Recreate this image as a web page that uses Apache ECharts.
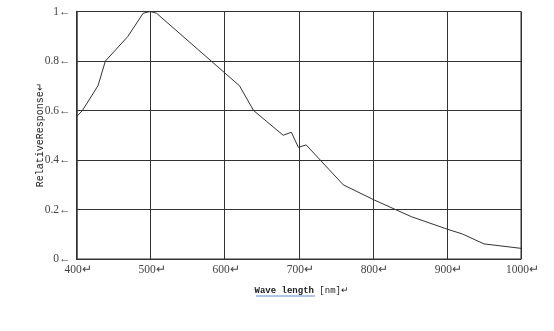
<!DOCTYPE html>
<html><head><meta charset="utf-8">
<script src="https://cdn.jsdelivr.net/npm/echarts@6/dist/echarts.min.js"></script>
<style>html,body{margin:0;padding:0;background:#fff}#c{width:554px;height:331px}</style>
</head><body><div id="c"></div>
<script>
const wavelengths = [400, 408, 429, 439, 469, 490, 499.5, 508, 620, 639, 679, 690, 699.5, 710, 760, 800, 852, 900, 921, 950, 1000];
const response   = [0.575, 0.60, 0.70, 0.80, 0.898, 0.993, 1.0, 0.993, 0.70, 0.60, 0.50, 0.512, 0.451, 0.461, 0.30, 0.241, 0.171, 0.121, 0.101, 0.061, 0.043];
const xTicks = [400, 500, 600, 700, 800, 900, 1000];
const yTicks = [0, 0.2, 0.4, 0.6, 0.8, 1];
const xNameMain = 'Wave length';
const xNameRest = ' [nm]↵';
const yName = 'RelativeResponse↵';

const chart = echarts.init(document.getElementById('c'));
const data = wavelengths.map((w, i) => [w, response[i]]);
chart.setOption({
  animation: false,
  grid: {left: 76.5, right: 33, top: 11.5, bottom: 72, show: true, borderColor: '#333', borderWidth: 1},
  graphic: [{
    type: 'line', shape: {x1: 256, y1: 296, x2: 315, y2: 296},
    style: {stroke: '#5b8fd6', lineWidth: 1.2}, silent: true
  }],
  xAxis: {
    type: 'value', min: xTicks[0], max: xTicks[xTicks.length-1], interval: 100,
    axisLine: {show: true, lineStyle: {color: '#333', width: 1}},
    axisTick: {show: false},
    splitLine: {show: true, lineStyle: {color: '#333', width: 1}},
    axisLabel: {margin: 5, color: '#444', fontFamily: 'Liberation Serif', fontSize: 11.5,
      formatter: v => v + '↵', padding: [0, 0, 0, 3]},
    name: '{b|' + xNameMain + '}' + xNameRest, nameLocation: 'middle', nameGap: 27,
    nameMoveOverlap: false,
    nameTextStyle: {fontFamily: 'Liberation Mono', fontSize: 9, color: '#222', padding: [0, 0, 0, 6],
      rich: {b: {fontFamily: 'Liberation Mono', fontSize: 9, fontWeight: 'bold', color: '#222'}}}
  },
  yAxis: {
    type: 'value', min: yTicks[0], max: yTicks[yTicks.length-1], interval: 0.2,
    axisLine: {show: true, lineStyle: {color: '#333', width: 1.5}},
    axisTick: {show: false},
    splitLine: {show: true, lineStyle: {color: '#333', width: 1}},
    axisLabel: {margin: 6, color: '#444', fontFamily: 'Liberation Serif', fontSize: 11.5,
      formatter: v => (Math.round(v*10)/10) + '←'},
    name: yName, nameLocation: 'middle', nameGap: 31, nameRotate: 90,
    nameMoveOverlap: false,
    nameTextStyle: {fontFamily: 'Liberation Mono', fontSize: 10, color: '#222'}
  },
  series: [{
    type: 'line', data: data, showSymbol: false, symbol: 'none',
    lineStyle: {color: '#333', width: 1}
  }]
});
</script></body></html>
